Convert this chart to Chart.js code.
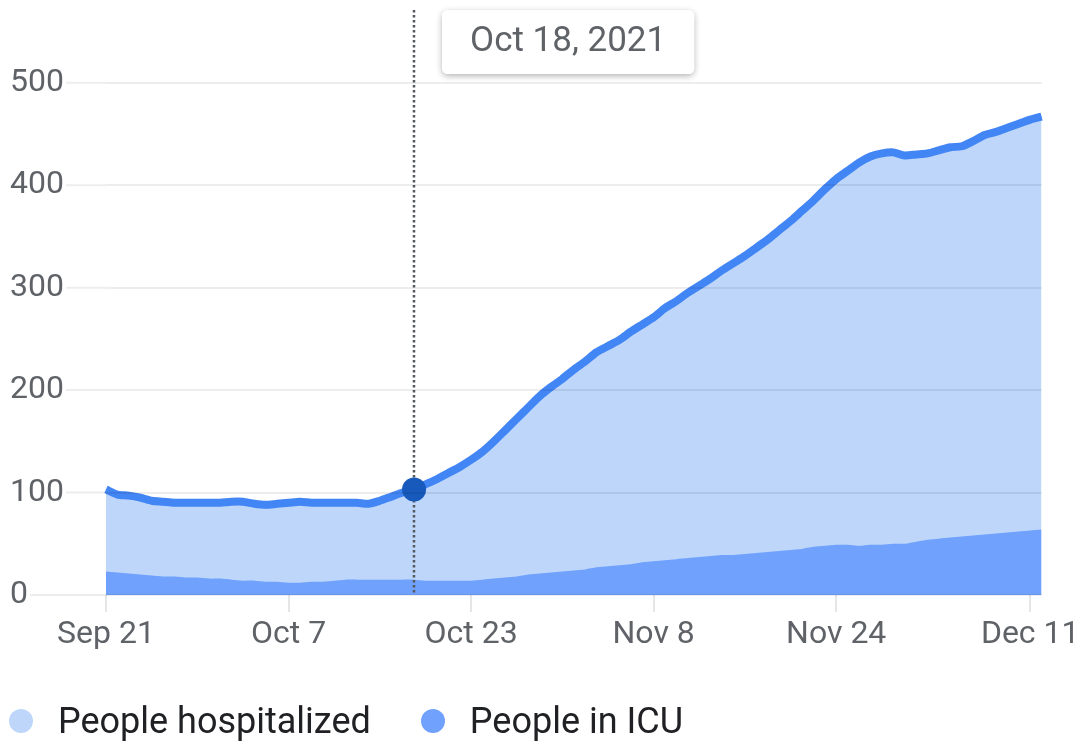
<!DOCTYPE html>
<html>
<head>
<meta charset="utf-8">
<script src="https://cdn.jsdelivr.net/npm/chart.js@4.4.1/dist/chart.umd.min.js"></script>
<style>
  html, body { margin: 0; padding: 0; background: #fff; }
  #wrap { position: relative; width: 1084px; height: 742px; }
  #legend { position: absolute; left: 9px; top: 700px; display: flex; align-items: center;
            font-family: Roboto, sans-serif; font-size: 36px; color: #202124; }
  .item { display: flex; align-items: center; margin-right: 50px; }
  .dot { width: 24px; height: 24px; border-radius: 50%; margin-right: 25px; }
</style>
</head>
<body>
<div id="wrap">
  <canvas id="chart" width="1084" height="742"></canvas>
  <div id="legend"></div>
</div>
<script>
// ---- data ----
function monthDays(m, from, to) { const out = []; for (let d = from; d <= to; d++) out.push(m + ' ' + d); return out; }
const CATEGORIES = [].concat(monthDays('Sep', 21, 30), monthDays('Oct', 1, 31), monthDays('Nov', 1, 30), monthDays('Dec', 1, 12));
const YEAR = 2021;
const TICK_LABELS = ['Sep 21', 'Oct 7', 'Oct 23', 'Nov 8', 'Nov 24', 'Dec 11'];
const Y_TICKS = [0, 100, 200, 300, 400, 500];
const FOCUS_LABEL = 'Oct 18';

const HOSPITALIZED = [
  103, 98, 97, 95, 92, 91, 90, 90, 90, 90,
  90, 91, 91, 89, 88, 89, 90, 91, 90, 90,
  90, 90, 90, 89, 92, 96, 100, 103, 108, 113,
  119, 125, 132, 140, 150, 161, 172, 183, 194, 203,
  211, 220, 228, 237, 243, 249, 257, 264, 271, 280,
  287, 295, 302, 309, 317, 324, 331, 339, 347, 356,
  365, 375, 385, 396, 406, 414, 422, 428, 431, 432,
  429, 430, 431, 434, 437, 438, 443, 449, 452, 456,
  460, 464, 467
];
const ICU = [
  23, 22, 21, 20, 19, 18, 18, 17, 17, 16,
  16, 15, 14, 14, 13, 13, 12, 12, 13, 13,
  14, 15, 15, 15, 15, 15, 15, 15, 14, 14,
  14, 14, 14, 15, 16, 17, 18, 20, 21, 22,
  23, 24, 25, 27, 28, 29, 30, 32, 33, 34,
  35, 36, 37, 38, 39, 39, 40, 41, 42, 43,
  44, 45, 47, 48, 49, 49, 48, 49, 49, 50,
  50, 52, 54, 55, 56, 57, 58, 59, 60, 61,
  62, 63, 64
];
const SERIES_NAMES = ['People hospitalized', 'People in ICU'];

// ---- styles ----
const HOSP_LINE = '#4285f4';
const HOSP_FILL = '#bdd6fa';
const ICU_FILL = '#6fa1fd';
const FOCUS_COLOR = '#185abc';
const AXIS_TEXT = '#5f6368';
const GRID = 'rgba(0,0,0,0.07)';
const FONT = 'Roboto';
const focusIndex = CATEGORIES.indexOf(FOCUS_LABEL);

Chart.Tooltip.positioners.besidePoint = function (items) {
  if (!items.length) return false;
  const el = items[0].element;
  return { x: el.x + 34, y: this.chart.chartArea.top - 1 };
};

const extrasPlugin = {
  id: 'extras',
  beforeDatasetsDraw(chart) {
    // dotted vertical guide at the focused date
    const x = Math.round(chart.scales.x.getPixelForValue(focusIndex));
    const ctx = chart.ctx;
    ctx.save();
    ctx.strokeStyle = '#55595e';
    ctx.lineWidth = 2.5;
    ctx.setLineDash([2.5, 2.5]);
    ctx.beginPath();
    ctx.moveTo(x, chart.chartArea.top - 1);
    ctx.lineTo(x, chart.chartArea.bottom);
    ctx.stroke();
    ctx.restore();
  },
  afterDraw(chart) {
    // extend horizontal grid lines leftwards to just after each tick label
    const y = chart.scales.y;
    const ctx = chart.ctx;
    ctx.save();
    ctx.font = '32px ' + FONT;
    ctx.strokeStyle = GRID;
    ctx.lineWidth = 2;
    y.ticks.forEach(t => {
      const py = y.getPixelForValue(t.value);
      const w = ctx.measureText(String(t.value)).width;
      ctx.beginPath();
      ctx.moveTo(y.left + w + 2, py);
      ctx.lineTo(chart.chartArea.left, py);
      ctx.stroke();
    });
    ctx.restore();
  },
  beforeTooltipDraw(chart, args) {
    const t = args.tooltip;
    if (!t || !t.opacity) return;
    const ctx = chart.ctx;
    ctx.save();
    ctx.shadowColor = 'rgba(0,0,0,0.30)';
    ctx.shadowBlur = 6;
    ctx.shadowOffsetY = 2;
    ctx.fillStyle = '#fff';
    ctx.beginPath();
    ctx.roundRect(t.x, t.y, t.width, t.height, 6);
    ctx.fill();
    ctx.restore();
  }
};

function build() {
  const chart = new Chart(document.getElementById('chart'), {
    type: 'line',
    data: {
      labels: CATEGORIES,
      datasets: [
        {
          label: SERIES_NAMES[0],
          data: HOSPITALIZED,
          order: 1,
          borderColor: HOSP_LINE,
          backgroundColor: HOSP_FILL,
          borderWidth: 8,
          fill: 'origin',
          tension: 0.25,
          borderCapStyle: 'butt',
          pointRadius: ctx => ctx.dataIndex === focusIndex ? 12 : 0,
          pointHoverRadius: ctx => ctx.dataIndex === focusIndex ? 12 : 0,
          pointBackgroundColor: FOCUS_COLOR,
          pointBorderWidth: 0,
          legendColor: HOSP_FILL
        },
        {
          label: SERIES_NAMES[1],
          data: ICU,
          order: 0,
          borderColor: 'transparent',
          backgroundColor: ICU_FILL,
          borderWidth: 0,
          fill: 'origin',
          tension: 0.25,
          pointRadius: 0,
          pointHoverRadius: 0,
          legendColor: ICU_FILL
        }
      ]
    },
    options: {
      responsive: false,
      animation: false,
      events: [],
      layout: { padding: { left: 10, right: 40, top: 11, bottom: 87 } },
      scales: {
        x: {
          type: 'category',
          offset: false,
          grid: { display: true, drawOnChartArea: false, drawTicks: true, tickLength: 17, tickColor: '#e6e6e6', lineWidth: 2, color: '#e6e6e6' },
          border: { display: false },
          ticks: { autoSkip: false, maxRotation: 0, minRotation: 0, padding: 4, color: AXIS_TEXT, font: { family: FONT, size: 32 } },
          afterBuildTicks: s => { s.ticks = s.ticks.filter(t => TICK_LABELS.includes(CATEGORIES[t.value])); },
          afterFit: s => { s.height = 60; }
        },
        y: {
          min: 0,
          max: 570,
          grid: { color: GRID, lineWidth: 2, drawTicks: false, z: 1 },
          border: { display: false },
          ticks: { stepSize: 100, crossAlign: 'far', padding: 0, color: AXIS_TEXT, font: { family: FONT, size: 32 } },
          afterBuildTicks: s => { s.ticks = Y_TICKS.map(v => ({ value: v })); },
          afterFit: s => { s.width = 96; s.paddingTop = 0; s.paddingBottom = 0; }
        }
      },
      plugins: {
        legend: { display: false },
        filler: { drawTime: 'beforeDatasetsDraw' },
        tooltip: {
          enabled: true,
          position: 'besidePoint',
          xAlign: 'left',
          yAlign: 'top',
          caretSize: 0,
          caretPadding: 0,
          cornerRadius: 6,
          backgroundColor: '#ffffff',
          borderWidth: 0,
          titleColor: AXIS_TEXT,
          titleFont: { family: FONT, size: 35, weight: 'normal' },
          titleMarginBottom: 0,
          padding: { left: 28, right: 28, top: 11, bottom: 11 },
          displayColors: false,
          callbacks: {
            title: items => items.length ? CATEGORIES[items[0].dataIndex] + ', ' + YEAR : '',
            label: () => null
          }
        }
      }
    },
    plugins: [extrasPlugin]
  });

  chart.tooltip.setActiveElements([{ datasetIndex: 0, index: focusIndex }], { x: 0, y: 0 });
  chart.update();

  // legend built from the chart's datasets
  const legend = document.getElementById('legend');
  chart.data.datasets.forEach(ds => {
    const item = document.createElement('div');
    item.className = 'item';
    const dot = document.createElement('span');
    dot.className = 'dot';
    dot.style.background = ds.legendColor;
    const txt = document.createElement('span');
    txt.textContent = ds.label;
    item.appendChild(dot);
    item.appendChild(txt);
    legend.appendChild(item);
  });
}

if (document.fonts && document.fonts.load) {
  Promise.all([document.fonts.load('32px Roboto'), document.fonts.load('36px Roboto')]).then(build, build);
} else {
  build();
}
</script>
</body>
</html>
